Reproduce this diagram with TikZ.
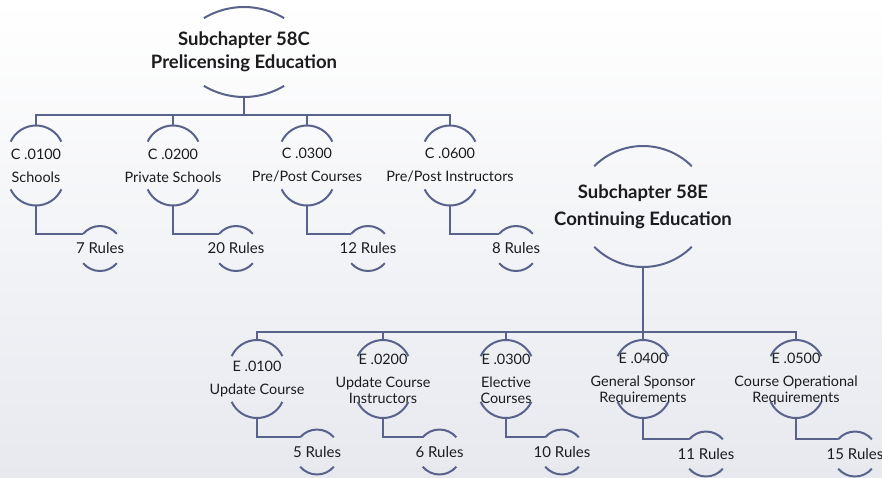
\documentclass[tikz,border=0pt]{standalone}
\usepackage{fontspec}
\setmainfont{Lato}
\usepackage{tikz}
\definecolor{rimblue}{RGB}{88,98,138}
\definecolor{inkgray}{RGB}{28,28,30}
\definecolor{paperbot}{RGB}{231,233,239}
\tikzset{
  rim/.style={draw=rimblue, line width=2pt},
  link/.style={draw=rimblue, line width=2pt},
  headbox/.style={font=\fontsize{18.5}{23}\selectfont\bfseries, text=inkgray, align=center,
                  minimum height=90pt, inner sep=0pt, outer sep=0pt},
  secbox/.style={font=\fontsize{14.4}{16}\selectfont, text=inkgray, align=center,
                 minimum height=80pt, inner sep=0pt, outer sep=0pt},
  rulebox/.style={font=\fontsize{15}{16}\selectfont, text=inkgray,
                  minimum height=45pt, inner sep=0pt, outer sep=0pt}
}

\begin{document}
\begin{tikzpicture}[x=1pt, y=1pt]
  \shade[top color=white, bottom color=paperbot] (0,0) rectangle (882,-477);
  \useasboundingbox (0,0) rectangle (882,-477);

  % Subchapter heads
  \node[headbox] (sc) at (244,-52) {Subchapter 58C\\Prelicensing Education};
  \node[headbox, minimum height=121pt] (se) at (643,-206.5) {Subchapter 58E\\[4pt]Continuing Education};

  % Sections of 58C
  \node[secbox] (c1) at (36,-165.5)  {C .0100\\[7pt]Schools};
  \node[secbox] (c2) at (173,-165.5) {C .0200\\[7pt]Private Schools};
  \node[secbox] (c3) at (307,-165.5) {C .0300\\[7pt]Pre/Post Courses};
  \node[secbox] (c4) at (450,-165.5) {C .0600\\[7pt]Pre/Post Instructors};

  % Sections of 58E
  \node[secbox, minimum height=78pt] (e1) at (257,-379) {E .0100\\[7pt]Update Course};
  \node[secbox, minimum height=78pt] (e2) at (383,-379) {E .0200\\[7pt]Update Course\\Instructors};
  \node[secbox, minimum height=78pt] (e3) at (506,-379) {E .0300\\[7pt]Elective\\Courses};
  \node[secbox, minimum height=78pt] (e4) at (643,-379) {E .0400\\[7pt]General Sponsor\\Requirements};
  \node[secbox, minimum height=78pt] (e5) at (796,-379) {E .0500\\[7pt]Course Operational\\Requirements};

  % Rule counts
  \node[rulebox] (cr1) at (100,-248.5) {7 Rules};
  \node[rulebox] (cr2) at (236,-248.5) {20 Rules};
  \node[rulebox] (cr3) at (368,-248.5) {12 Rules};
  \node[rulebox] (cr4) at (516,-248.5) {8 Rules};
  \node[rulebox] (er1) at (317,-452) {5 Rules};
  \node[rulebox] (er2) at (439.5,-452) {6 Rules};
  \node[rulebox] (er3) at (562,-452) {10 Rules};
  \node[rulebox] (er4) at (706,-454) {11 Rules};
  \node[rulebox] (er5) at (855,-454) {15 Rules};

  % Arcs above and below every node
  \foreach \n/\r/\a in {sc/78pt/31, se/69pt/45, c1/28pt/65, c2/28pt/65, c3/28pt/65, c4/28pt/65,
                        e1/28pt/65, e2/28pt/65, e3/28pt/65, e4/28pt/65, e5/28pt/65}
    \draw[rim] (\n.north) arc[start angle=90, delta angle=\a, radius=\r]
               (\n.north) arc[start angle=90, delta angle=-\a, radius=\r]
               (\n.south) arc[start angle=-90, delta angle=\a, radius=\r]
               (\n.south) arc[start angle=-90, delta angle=-\a, radius=\r];
  \foreach \n in {cr1,cr2,cr3,cr4,er1,er2,er3,er4,er5}
    \draw[rim] (\n.north) arc[start angle=90, delta angle=50, radius=22pt] coordinate (\n-in)
               (\n.north) arc[start angle=90, delta angle=-50, radius=22pt]
               (\n.south) arc[start angle=-90, delta angle=50, radius=22pt]
               (\n.south) arc[start angle=-90, delta angle=-50, radius=22pt];

  % Connectors
  \foreach \i in {1,...,4}
    \draw[link] (sc.south) -- ++(0,-18) -| (c\i.north);
  \foreach \i in {1,...,4}
    \draw[link] (c\i.south) |- (cr\i-in);
  \foreach \i in {1,...,5}
    \draw[link] (se.south) -- ++(0,-65) -| (e\i.north);
  \foreach \i in {1,...,5}
    \draw[link] (e\i.south) |- (er\i-in);
\end{tikzpicture}
\end{document}
